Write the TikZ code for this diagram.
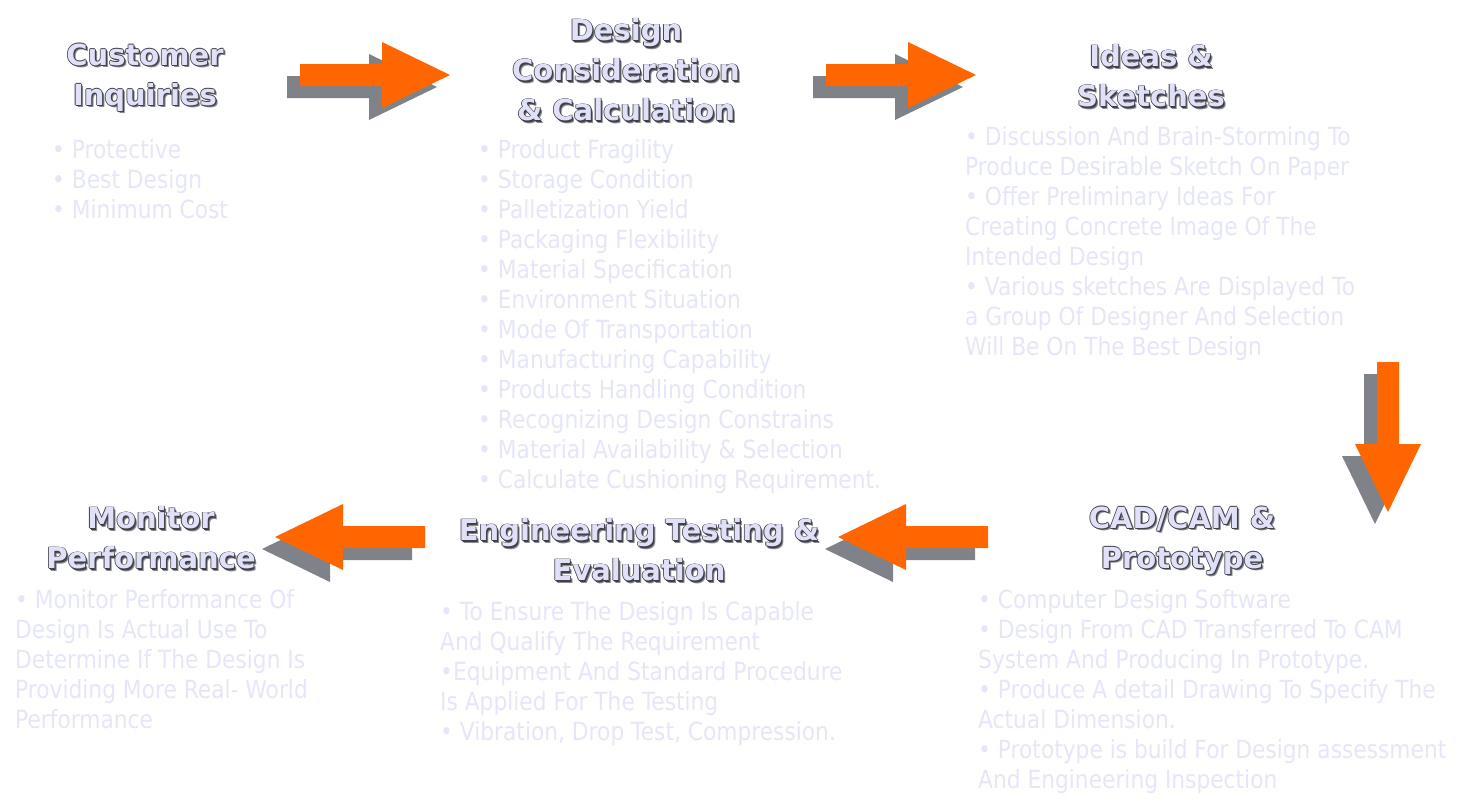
\documentclass[tikz,border=0pt]{standalone}
\usepackage{fontspec}
\setmainfont{DejaVu Sans}
\newfontfamily\bodyfont{DejaVu Sans}[FakeStretch=0.87]

\definecolor{arroworange}{HTML}{FF6600}
\definecolor{arrowgray}{HTML}{80828A}
\definecolor{lavender}{HTML}{E6E6FA}
\definecolor{titlefill}{HTML}{E0E0F8}
\definecolor{titleedge}{HTML}{404048}
\definecolor{titleshade}{HTML}{8A8A90}

\tikzset{
  titletext/.style={font=\bfseries\fontsize{29}{40}\selectfont, align=center, text=titlefill, inner sep=0pt},
  bullettext/.style={font=\bodyfont\fontsize{25}{30}\selectfont, align=left, text=lavender, inner sep=0pt, anchor=north west}
}

% title with dark edge and drop shadow
\newcommand{\steptitle}[3]{%
  \node[titletext,text=titleshade,xshift=2.2pt,yshift=-2.2pt] at (#2) {#3};
  \foreach \dx/\dy in {0.8/0,-0.8/0,0/0.8,0/-0.8,1.2/-1.2}
    \node[titletext,text=titleedge,xshift=\dx pt,yshift=\dy pt] at (#2) {#3};
  \node[titletext] (#1) at (#2) {#3};
}

% block arrow: tail x, tail y, angle
\newcommand{\flowarrow}[3]{%
  \fill[arrowgray,shift={(#1-13,#2+12)},rotate=#3] (0,-11) -- (82,-11) -- (82,-33) -- (150,0) -- (82,33) -- (82,11) -- (0,11) -- cycle;
  \fill[arroworange,shift={(#1,#2)},rotate=#3] (0,-11) -- (82,-11) -- (82,-33) -- (150,0) -- (82,33) -- (82,11) -- (0,11) -- cycle;
}

\begin{document}
\begin{tikzpicture}[x=1pt,y=-1pt]
  \fill[white] (0,0) rectangle (1476,801);
  \useasboundingbox (0,0) rectangle (1476,801);

  % Arrows
  \flowarrow{300}{75}{0}
  \flowarrow{826}{75}{0}
  \flowarrow{1388}{362}{-90}
  \flowarrow{988}{537}{180}
  \flowarrow{425}{537}{180}

  % Titles
  \steptitle{inquiry}{145,78}{Customer\\Inquiries}
  \steptitle{design}{626,70}{Design\\Consideration\\\& Calculation}
  \steptitle{ideas}{1151,76}{Ideas \&\\Sketches}
  \steptitle{cadcam}{1182,541}{CAD/CAM \&\\Prototype}
  \steptitle{testing}{639,550}{Engineering Testing \&\\Evaluation}
  \steptitle{monitor}{151,538}{Monitor\\Performance}

  % Bullet lists
  \node[bullettext] (inquirylist) at (52,139) {• Protective\\• Best Design\\• Minimum Cost};
  \node[bullettext] (designlist) at (478,139) {• Product Fragility\\• Storage Condition\\• Palletization Yield\\• Packaging Flexibility\\• Material Specification\\• Environment Situation\\• Mode Of Transportation\\• Manufacturing Capability\\• Products Handling Condition\\• Recognizing Design Constrains\\• Material Availability \& Selection\\• Calculate Cushioning Requirement.};
  \node[bullettext] (ideaslist) at (965,126) {• Discussion And Brain-Storming To\\Produce Desirable Sketch On Paper\\• Offer Preliminary Ideas For\\Creating Concrete Image Of The\\Intended Design\\• Various sketches Are Displayed To\\a Group Of Designer And Selection\\Will Be On The Best Design};
  \node[bullettext] (cadcamlist) at (978,589) {• Computer Design Software\\• Design From CAD Transferred To CAM\\System And Producing In Prototype.\\• Produce A detail Drawing To Specify The\\Actual Dimension.\\• Prototype is build For Design assessment\\And Engineering Inspection};
  \node[bullettext] (testinglist) at (440,601) {• To Ensure The Design Is Capable\\And Qualify The Requirement\\•Equipment And Standard Procedure\\Is Applied For The Testing\\• Vibration, Drop Test, Compression.};
  \node[bullettext] (monitorlist) at (15,589) {• Monitor Performance Of\\Design Is Actual Use To\\Determine If The Design Is\\Providing More Real- World\\Performance};
\end{tikzpicture}
\end{document}
